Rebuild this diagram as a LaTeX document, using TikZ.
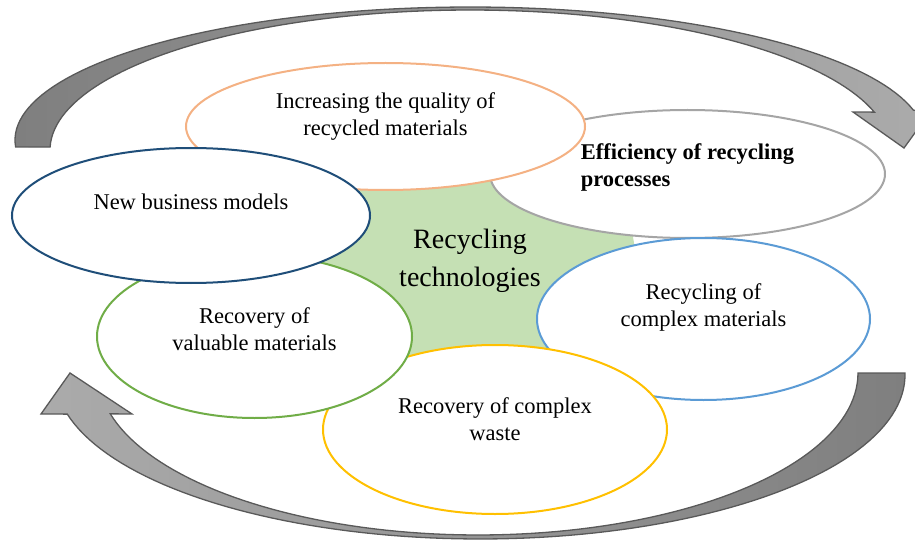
\documentclass[tikz,border=0pt]{standalone}
\usepackage{fontspec}
\setmainfont{Liberation Serif}
\usetikzlibrary{shapes.geometric}
\definecolor{qualityline}{HTML}{F4B183}
\definecolor{efficiencyline}{HTML}{A5A5A5}
\definecolor{complexline}{HTML}{5B9BD5}
\definecolor{wasteline}{HTML}{FFC000}
\definecolor{valuableline}{HTML}{70AD47}
\definecolor{businessline}{HTML}{1F4E79}
\definecolor{centrefill}{HTML}{C5E0B4}
\definecolor{arrowdark}{HTML}{7F7F7F}
\definecolor{arrowlight}{HTML}{ABABAB}
\definecolor{arrowline}{HTML}{595959}

\begin{document}
\begin{tikzpicture}[x=1pt,y=-1pt,
  bubble/.style={ellipse,draw,line width=2pt,fill=white,inner sep=0pt},
  bubbletext/.style={align=center,font=\fontsize{22.5}{27}\selectfont},
  arrowbody/.style={draw=arrowline,line width=1.3pt,line join=miter}]
\useasboundingbox (0,0) rectangle (915,540);
\fill[centrefill] (478,268) circle [radius=158];
% top arrow
\draw[arrowbody,left color=arrowdark,right color=arrowlight]
  plot[domain=183:13,samples=90,variable=\t] ({470+455*cos(\t)},{140-133*sin(\t)})
  -- (930,112) -- (904,148) -- (853,112)
  -- plot[domain=15.7:178.8,samples=90,variable=\t] ({470+420*cos(\t)},{150-140*sin(\t)})
  -- cycle;
% bottom arrow
\draw[arrowbody,left color=arrowlight,right color=arrowdark]
  plot[domain=0.7:-166.2,samples=90,variable=\t] ({480+425*cos(\t)},{375-164*sin(\t)})
  -- (41,414) -- (70,373) -- (132,414)
  -- plot[domain=-165.4:0,samples=90,variable=\t] ({478+380*cos(\t)},{373-162*sin(\t)})
  -- cycle;
% bubbles
\node[bubble,draw=efficiencyline,minimum width=395pt,minimum height=128pt] (efficiency) at (687.5,174) {};
\node[bubble,draw=qualityline,minimum width=399pt,minimum height=127pt] (quality) at (385.5,126.5) {};
\node[bubble,draw=complexline,minimum width=333pt,minimum height=162pt] (complex) at (703.5,319) {};
\node[bubble,draw=wasteline,minimum width=344pt,minimum height=169pt] (waste) at (495,429.5) {};
\node[bubble,draw=valuableline,minimum width=315pt,minimum height=163pt] (valuable) at (254.5,336.5) {};
\node[bubble,draw=businessline,minimum width=358pt,minimum height=135pt] (business) at (191,215.5) {};
% labels
\node[bubbletext] (qualitylabel) at ([yshift=10pt]quality.center) {Increasing the quality of\\recycled materials};
\node[bubbletext,align=left,font=\fontsize{22.5}{27}\selectfont\bfseries] (efficiencylabel) at ([yshift=7pt]efficiency.center) {Efficiency of recycling\\processes};
\node[bubbletext] (complexlabel) at ([yshift=12pt]complex.center) {Recycling of\\complex materials};
\node[bubbletext] (wastelabel) at ([yshift=10pt]waste.center) {Recovery of complex\\waste};
\node[bubbletext] (valuablelabel) at ([yshift=7pt]valuable.center) {Recovery of\\valuable materials};
\node[bubbletext] (businesslabel) at ([yshift=14pt]business.center) {New business models};
\node[align=center,font=\fontsize{28}{38}\selectfont] (centrelabel) at (470,261) {Recycling\\technologies};
\end{tikzpicture}
\end{document}
